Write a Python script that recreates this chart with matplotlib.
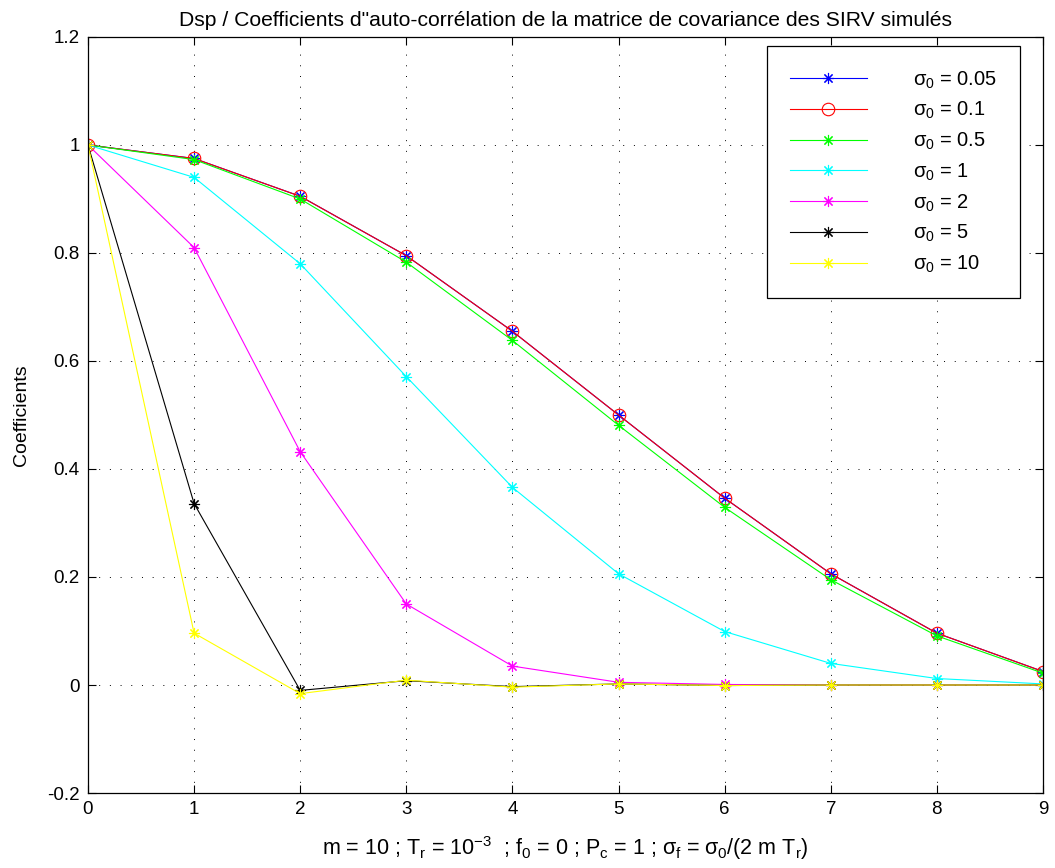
import matplotlib
matplotlib.use("Agg")
import matplotlib.pyplot as plt
from matplotlib.ticker import FuncFormatter

plt.rcParams['font.family'] = ['Liberation Sans', 'DejaVu Sans']
plt.rcParams['mathtext.fontset'] = 'custom'
plt.rcParams['mathtext.rm'] = 'Liberation Sans'
plt.rcParams['mathtext.it'] = 'Liberation Sans'
plt.rcParams['mathtext.bf'] = 'Liberation Sans'

# lag index
lags = [0, 1, 2, 3, 4, 5, 6, 7, 8, 9]

# auto-correlation coefficients for each sigma_0
c_005 = [1.0, 0.975, 0.905, 0.795, 0.655, 0.500, 0.346, 0.206, 0.096, 0.025]
c_01 = [1.0, 0.975, 0.905, 0.795, 0.655, 0.500, 0.346, 0.206, 0.096, 0.025]
c_05 = [1.0, 0.973, 0.900, 0.783, 0.638, 0.481, 0.329, 0.195, 0.091, 0.022]
c_1 = [1.0, 0.940, 0.780, 0.571, 0.366, 0.206, 0.099, 0.040, 0.012, 0.002]
c_2 = [1.0, 0.810, 0.432, 0.150, 0.035, 0.005, 0.001, 0.0, 0.0, 0.0]
c_5 = [1.0, 0.336, -0.010, 0.008, -0.003, 0.002, -0.001, 0.0, 0.0, 0.0]
c_10 = [1.0, 0.096, -0.016, 0.009, -0.004, 0.002, -0.001, 0.0, 0.0, 0.0]

labels = ['0.05', '0.1', '0.5', '1', '2', '5', '10']

fig = plt.figure(figsize=(10.55, 8.68), dpi=100)
ax = fig.add_axes([0.0834, 0.0864, 0.9052, 0.871])

star = (8, 2, 0)
ms = 8
ax.plot(lags, c_005, color='blue', marker=star, ms=ms, mew=0.8, lw=0.8, label=r'$\sigma_0$ = ' + labels[0])
ax.plot(lags, c_01, color='red', marker='o', ms=9, mfc='none', mew=0.8, lw=0.8, label=r'$\sigma_0$ = ' + labels[1])
ax.plot(lags, c_05, color='#00ff00', marker=star, ms=ms, mew=0.8, lw=0.8, label=r'$\sigma_0$ = ' + labels[2])
ax.plot(lags, c_1, color='cyan', marker=star, ms=ms, mew=0.8, lw=0.8, label=r'$\sigma_0$ = ' + labels[3])
ax.plot(lags, c_2, color='magenta', marker=star, ms=ms, mew=0.8, lw=0.8, label=r'$\sigma_0$ = ' + labels[4])
ax.plot(lags, c_5, color='black', marker=star, ms=ms, mew=0.8, lw=0.8, label=r'$\sigma_0$ = ' + labels[5])
ax.plot(lags, c_10, color='yellow', marker=star, ms=ms, mew=0.8, lw=0.8, label=r'$\sigma_0$ = ' + labels[6])

ax.set_xlim(0, 9)
ax.set_ylim(-0.2, 1.2)
ax.set_xticks(range(10))
ax.set_yticks([-0.2, 0, 0.2, 0.4, 0.6, 0.8, 1.0, 1.2])
ax.yaxis.set_major_formatter(FuncFormatter(lambda v, p: '%g' % round(v, 2)))
ax.tick_params(direction='in', length=6, width=0.8, labelsize=13.5, top=True, right=True, pad=6)
ax.grid(True, color='black', linestyle=(0, (1, 10)), linewidth=0.7)
for s in ax.spines.values():
    s.set_linewidth(0.9)

ax.set_title('Dsp / Coefficients d"auto-corrélation de la matrice de covariance des SIRV simulés',
             fontsize=15.2, pad=8)
ax.set_ylabel('Coefficients', fontsize=14, labelpad=12)
ax.set_xlabel(r'm = 10 ; T$_r$ = 10$^{-3}$  ; f$_0$ = 0 ; P$_c$ = 1 ; $\sigma_f$ = $\sigma_0$/(2 m T$_r$)',
              fontsize=15.5, labelpad=11)

leg = ax.legend(loc='upper right', bbox_to_anchor=(0.976, 0.988), fontsize=14.5,
                handlelength=3.8, handletextpad=2.3, labelspacing=0.47,
                borderpad=1.15, borderaxespad=0, fancybox=False, framealpha=1,
                edgecolor='black')
leg.get_frame().set_linewidth(0.9)

fig.savefig('out.png', dpi=100)
